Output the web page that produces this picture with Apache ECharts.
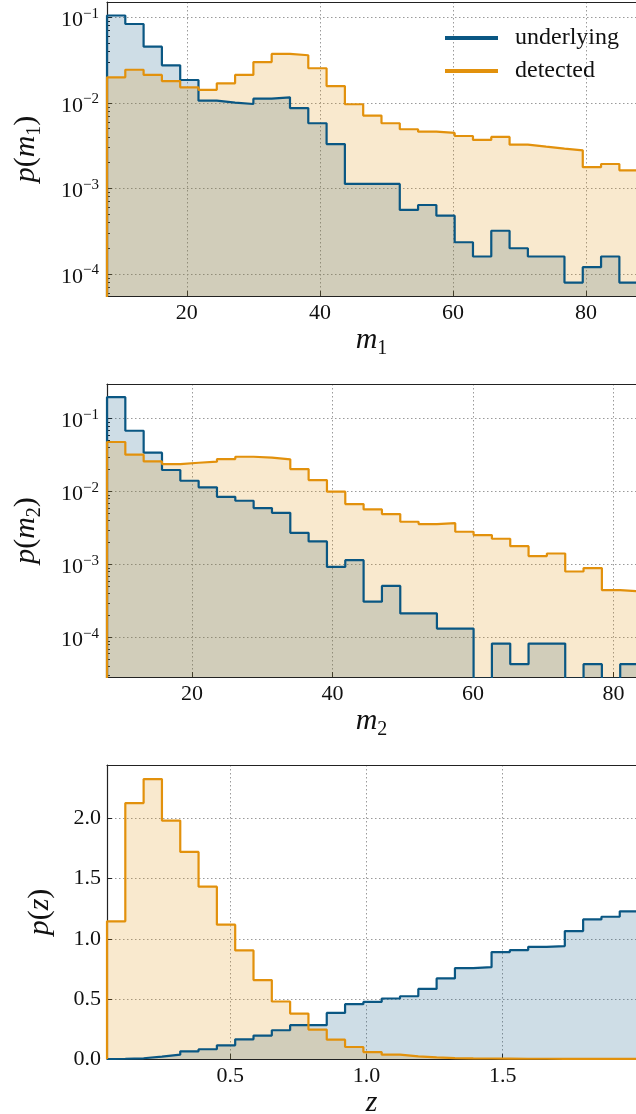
<!DOCTYPE html>
<html>
<head>
<meta charset="utf-8">
<title>p(m1) / p(m2) / p(z)</title>
<script src="https://cdn.jsdelivr.net/npm/echarts@6/dist/echarts.min.js"></script>
<style>
    html, body { margin: 0; padding: 0; background: #fff; }
    #chart { width: 636px; height: 1114px; }
</style>
</head>
<body>
<div id="chart"></div>
<script>
    // bin 起点与宽度 (等宽直方图)
    var m1Start = 8, m1Width = 2.75;
    var m2Start = 7.9, m2Width = 2.609;
    var zStart = 0.0478, zWidth = 0.0672;

    // p(m1)
    var m1Underlying = [0.105, 0.0835, 0.0454, 0.0275, 0.0185, 0.0106, 0.01005, 0.0097, 0.0112, 0.0116,
        0.0087, 0.00578, 0.0033, 0.00113, 0.00113, 0.00113, 0.00056, 0.00064, 0.00048, 0.000235,
        0.00016, 0.00032, 0.0002, 0.00016, 0.00016, 0.0000794, 0.00012, 0.00016, 0.0000794];
    var m1Detected = [0.0199, 0.0244, 0.0212, 0.018, 0.0152, 0.0142, 0.0169, 0.0212, 0.030, 0.0373,
        0.036, 0.0254, 0.0157, 0.00964, 0.0071, 0.00578, 0.00492, 0.00461, 0.00445, 0.0041,
        0.00369, 0.004, 0.00325, 0.00308, 0.00292, 0.00279, 0.00177, 0.00193, 0.00163];

    // p(m2)
    var m2Underlying = [0.197, 0.0684, 0.0342, 0.0198, 0.0141, 0.01146, 0.0085, 0.0075, 0.00595, 0.00513,
        0.00273, 0.00208, 0.00093, 0.00115, 0.00031, 0.00051, 0.000214, 0.000214, 0.000133, 0.000133,
        0, 0.0000826, 0.0000432, 0.0000826, 0.0000826, 0, 0.0000432, 0, 0.0000432];
    var m2Detected = [0.0479, 0.0321, 0.026, 0.0239, 0.0249, 0.0258, 0.028, 0.0301, 0.0292, 0.0277,
        0.0204, 0.0144, 0.01, 0.00676, 0.00571, 0.00493, 0.00387, 0.00359, 0.0037, 0.00282,
        0.00254, 0.00226, 0.00179, 0.00131, 0.00142, 0.000805, 0.000895, 0.000447, 0.000432];

    // p(z)
    var zUnderlying = [0.002, 0.006, 0.02, 0.036, 0.064, 0.081, 0.114, 0.164, 0.195, 0.239,
        0.281, 0.281, 0.383, 0.456, 0.475, 0.503, 0.522, 0.583, 0.67, 0.756,
        0.764, 0.889, 0.906, 0.933, 0.939, 1.064, 1.161, 1.183, 1.228];
    var zDetected = [1.145, 2.128, 2.328, 1.983, 1.722, 1.433, 1.117, 0.903, 0.656, 0.478,
        0.378, 0.245, 0.161, 0.1, 0.058, 0.036, 0.022, 0.013, 0.008, 0.005,
        0.004, 0.003, 0.002, 0.002, 0.001, 0.001, 0.001, 0.001, 0.001];

    var legendNames = ['underlying', 'detected'];
    var colors = ['#0a5783', '#e2910c'];
    var fontFamily = '"Liberation Serif", "DejaVu Serif", serif';
    var ink = '#111';

    // 轴范围
    var m1Range = [8, 87.5], m2Range = [7.9, 83.2], zRange = [0.0478, 1.989];
    var m1YRange = [5.53e-5, 0.151], m2YRange = [2.88e-5, 0.299], zYRange = [0, 2.445];

    var myChart = echarts.init(document.getElementById('chart'), null, {renderer: 'canvas'});

    // 直方图 -> 阶梯线的点
    function stepData(start, width, values, floor) {
        var pts = [[start, floor]];
        for (var i = 0; i < values.length; i++) {
            pts.push([start + i * width, values[i] > 0 ? values[i] : floor]);
        }
        pts.push([start + values.length * width, values[values.length - 1]]);
        return pts;
    }

    var titleRich = {
        i: {fontFamily: fontFamily, fontStyle: 'italic', fontSize: 30, lineHeight: 30, verticalAlign: 'top', color: ink},
        n: {fontFamily: fontFamily, fontSize: 30, lineHeight: 30, verticalAlign: 'top', color: ink},
        s: {fontFamily: fontFamily, fontSize: 20, lineHeight: 20, padding: [14, 0, 0, 0], verticalAlign: 'top', color: ink}
    };
    var labelRich = {
        b: {fontFamily: fontFamily, fontSize: 22, lineHeight: 22, padding: [3, 0, 0, 0], verticalAlign: 'top', color: ink},
        s: {fontFamily: fontFamily, fontSize: 15, lineHeight: 15, verticalAlign: 'top', color: ink}
    };

    var minorLog = [];
    for (var e = -6; e <= 0; e++) {
        for (var k = 2; k <= 9; k++) minorLog.push(k * Math.pow(10, e));
    }

    function bottomAxis(gi, range, name, digits) {
        return {
            type: 'value', gridIndex: gi, position: 'bottom', min: range[0], max: range[1], splitNumber: 4,
            name: name, nameLocation: 'middle', nameGap: 24,
            nameTextStyle: {rich: titleRich},
            axisLine: {show: true, onZero: false, lineStyle: {color: '#222', width: 1.2}},
            axisTick: {show: true, inside: true, length: 5, lineStyle: {color: '#222', width: 1}},
            axisLabel: {show: true, margin: 6, color: ink, fontFamily: fontFamily, fontSize: 22,
                showMinLabel: false, showMaxLabel: false,
                formatter: function (v) { return v.toFixed(digits); }},
            splitLine: {show: true, showMinLine: false, showMaxLine: false,
                lineStyle: {color: '#9a9a9a', width: 1, type: [1.5, 2.5]}}
        };
    }

    function topFrame(gi, range) {
        return {
            type: 'value', gridIndex: gi, position: 'top', min: range[0], max: range[1],
            axisLine: {show: true, onZero: false, lineStyle: {color: '#222', width: 1.2}},
            axisTick: {show: false}, axisLabel: {show: false}, splitLine: {show: false}
        };
    }

    function logAxis(gi, range, name, gap) {
        return {
            type: 'log', logBase: 10, gridIndex: gi, position: 'left', min: range[0], max: range[1],
            name: name, nameLocation: 'middle', nameGap: gap, nameRotate: 90,
            nameTextStyle: {rich: titleRich},
            axisLine: {show: true, lineStyle: {color: '#222', width: 1.2}},
            axisTick: {show: true, inside: true, length: 5, lineStyle: {color: '#222', width: 1}},
            axisLabel: {
                show: true, margin: 8, showMinLabel: false, showMaxLabel: false,
                formatter: function (v) {
                    var ex = Math.round(Math.log(v) / Math.LN10);
                    return '{b|10}{s|' + (ex < 0 ? '\u2212' + (-ex) : ex) + '}';
                },
                rich: labelRich
            },
            splitLine: {show: true, showMinLine: false, showMaxLine: false,
                lineStyle: {color: '#9a9a9a', width: 1, type: [1.5, 2.5]}}
        };
    }

    function minorAxis(gi, range) {
        return {
            type: 'log', logBase: 10, gridIndex: gi, position: 'left', offset: 0, min: range[0], max: range[1],
            axisLine: {show: false},
            axisTick: {show: true, inside: true, length: 3, customValues: minorLog,
                lineStyle: {color: '#222', width: 1}},
            axisLabel: {show: false}, splitLine: {show: false}
        };
    }

    function histSeries(name, color, xi, yi, data) {
        return {
            name: name, type: 'line', step: 'end', xAxisIndex: xi, yAxisIndex: yi,
            data: data, symbol: 'none', clip: true,
            itemStyle: {color: color},
            lineStyle: {color: color, width: 2.2},
            areaStyle: {color: color, opacity: 0.2, origin: 'start'}
        };
    }

    var option = {
        backgroundColor: '#fff',
        animation: false,
        textStyle: {fontFamily: fontFamily},
        grid: [
            {left: 107, right: 0, top: 2, height: 294, outerBoundsMode: 'none'},
            {left: 107, right: 0, top: 384, height: 293, outerBoundsMode: 'none'},
            {left: 107, right: 0, top: 765, height: 294, outerBoundsMode: 'none'}
        ],
        legend: {
            data: legendNames, orient: 'vertical', left: 440, top: 21,
            icon: 'rect', itemWidth: 53, itemHeight: 4, itemGap: 9,
            textStyle: {fontFamily: fontFamily, fontSize: 24, lineHeight: 24, color: ink, padding: [0, 0, 0, 12]}
        },
        xAxis: [
            bottomAxis(0, m1Range, '{i|m}{s|1}', 0),
            bottomAxis(1, m2Range, '{i|m}{s|2}', 0),
            bottomAxis(2, zRange, '{i|z}', 1),
            topFrame(0, m1Range),
            topFrame(1, m2Range),
            topFrame(2, zRange)
        ],
        yAxis: [
            logAxis(0, m1YRange, '{i|p}{n|(}{i|m}{s|1}{n|)}', 66),
            logAxis(1, m2YRange, '{i|p}{n|(}{i|m}{s|2}{n|)}', 66),
            {
                type: 'value', gridIndex: 2, position: 'left', min: zYRange[0], max: zYRange[1], splitNumber: 5,
                name: '{i|p}{n|(}{i|z}{n|)}', nameLocation: 'middle', nameGap: 52, nameRotate: 90,
                nameTextStyle: {rich: titleRich},
                axisLine: {show: true, lineStyle: {color: '#222', width: 1.2}},
                axisTick: {show: true, inside: true, length: 5, lineStyle: {color: '#222', width: 1}},
                axisLabel: {show: true, margin: 6, color: ink, fontFamily: fontFamily, fontSize: 22,
                    showMaxLabel: false,
                    formatter: function (v) { return v.toFixed(1); }},
                splitLine: {show: true, showMinLine: false, showMaxLine: false,
                    lineStyle: {color: '#9a9a9a', width: 1, type: [1.5, 2.5]}}
            },
            minorAxis(0, m1YRange),
            minorAxis(1, m2YRange)
        ],
        series: [
            histSeries(legendNames[0], colors[0], 0, 0, stepData(m1Start, m1Width, m1Underlying, 1e-12)),
            histSeries(legendNames[1], colors[1], 0, 0, stepData(m1Start, m1Width, m1Detected, 1e-12)),
            histSeries(legendNames[0], colors[0], 1, 1, stepData(m2Start, m2Width, m2Underlying, 1e-12)),
            histSeries(legendNames[1], colors[1], 1, 1, stepData(m2Start, m2Width, m2Detected, 1e-12)),
            histSeries(legendNames[0], colors[0], 2, 2, stepData(zStart, zWidth, zUnderlying, 0)),
            histSeries(legendNames[1], colors[1], 2, 2, stepData(zStart, zWidth, zDetected, 0))
        ]
    };
    myChart.setOption(option);
</script>
</body>
</html>
